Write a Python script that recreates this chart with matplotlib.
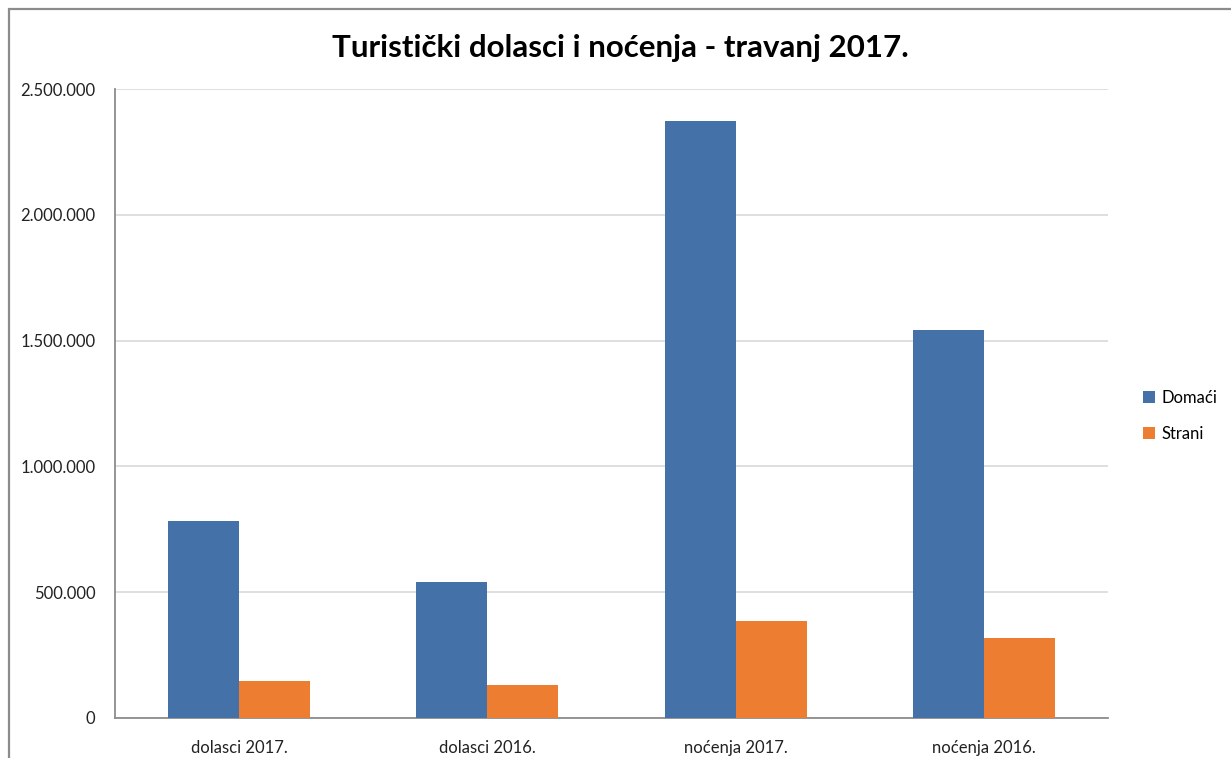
import matplotlib.pyplot as plt
import numpy as np
from matplotlib.patches import Rectangle
from matplotlib.ticker import FuncFormatter

plt.rcParams.update({
    "font.family": ["Lato", "DejaVu Sans"],
    "font.size": 11,
})

categories = ["dolasci 2017.", "dolasci 2016.", "noćenja 2017.", "noćenja 2016."]
domaci = [783000, 540000, 2373000, 1542000]
strani = [148000, 131000, 386000, 318000]
series_names = ["Domaći", "Strani"]
colors = ["#4472A8", "#ED7D31"]

W, H = 1231, 758
fig = plt.figure(figsize=(W / 100, H / 100), dpi=100)
ax = fig.add_axes([115 / W, (H - 718) / H, (1108 - 115) / W, (718 - 89) / H])

# outer chart frame (right and bottom run off the image)
fig.patches.append(Rectangle((8.5 / W, -0.1), 1.2, (H - 9.5) / H + 0.1,
                             transform=fig.transFigure, fill=False,
                             edgecolor="#8c8c8c", lw=1.6))

x = np.arange(len(categories))
w = 1 / 3.5
ax.bar(x - w / 2, domaci, w, color=colors[0], label=series_names[0], zorder=3)
ax.bar(x + w / 2, strani, w, color=colors[1], label=series_names[1], zorder=3)

ax.set_xlim(-0.5, len(categories) - 0.5)
ax.set_ylim(0, 2500000)
ax.set_yticks(np.arange(0, 2500001, 500000))
ax.yaxis.set_major_formatter(FuncFormatter(lambda v, p: f"{int(v):,}".replace(",", ".")))
ax.set_xticks(x)
ax.set_xticklabels(categories)
ax.tick_params(axis="both", length=0, labelsize=12, colors="#222222")
ax.tick_params(axis="x", pad=16)
ax.tick_params(axis="y", pad=14)
ax.grid(axis="y", color="#d9d9d9", lw=1.2, zorder=0)
for s in ("top", "right"):
    ax.spines[s].set_visible(False)
for s in ("left", "bottom"):
    ax.spines[s].set_color("#8c8c8c")
    ax.spines[s].set_linewidth(1.3)

fig.text(620 / W, 1 - 48 / H, "Turistički dolasci i noćenja - travanj 2017.",
         ha="center", va="center", fontsize=22.5, fontweight="bold")

fig.legend(loc="center left", bbox_to_anchor=(1128 / W, 1 - 416 / H),
           frameon=False, fontsize=12, handlelength=0.7, handleheight=0.7,
           handletextpad=0.4, labelspacing=1.2)

fig.savefig("out.png", dpi=100)
